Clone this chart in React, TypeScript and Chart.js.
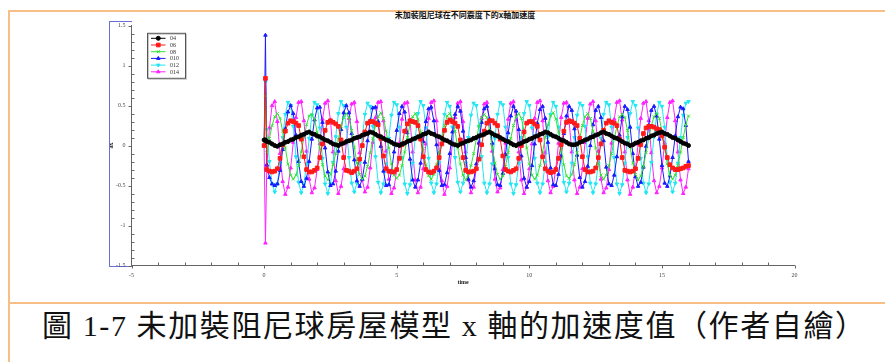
import React, { useEffect, useRef } from 'react';
import { Chart, registerables } from 'chart.js';
import { drawPoint } from 'chart.js/helpers';

Chart.register(...registerables);

// time axis (s)
const TIME = [0, 0.05,
  0.1, 0.2, 0.3, 0.4, 0.5, 0.6, 0.7, 0.8, 0.9, 1,
  1.1, 1.2, 1.3, 1.4, 1.5, 1.6, 1.7, 1.8, 1.9, 2,
  2.1, 2.2, 2.3, 2.4, 2.5, 2.6, 2.7, 2.8, 2.9, 3,
  3.1, 3.2, 3.3, 3.4, 3.5, 3.6, 3.7, 3.8, 3.9, 4,
  4.1, 4.2, 4.3, 4.4, 4.5, 4.6, 4.7, 4.8, 4.9, 5,
  5.1, 5.2, 5.3, 5.4, 5.5, 5.6, 5.7, 5.8, 5.9, 6,
  6.1, 6.2, 6.3, 6.4, 6.5, 6.6, 6.7, 6.8, 6.9, 7,
  7.1, 7.2, 7.3, 7.4, 7.5, 7.6, 7.7, 7.8, 7.9, 8,
  8.1, 8.2, 8.3, 8.4, 8.5, 8.6, 8.7, 8.8, 8.9, 9,
  9.1, 9.2, 9.3, 9.4, 9.5, 9.6, 9.7, 9.8, 9.9, 10,
  10.1, 10.2, 10.3, 10.4, 10.5, 10.6, 10.7, 10.8, 10.9, 11,
  11.1, 11.2, 11.3, 11.4, 11.5, 11.6, 11.7, 11.8, 11.9, 12,
  12.1, 12.2, 12.3, 12.4, 12.5, 12.6, 12.7, 12.8, 12.9, 13,
  13.1, 13.2, 13.3, 13.4, 13.5, 13.6, 13.7, 13.8, 13.9, 14,
  14.1, 14.2, 14.3, 14.4, 14.5, 14.6, 14.7, 14.8, 14.9, 15,
  15.1, 15.2, 15.3, 15.4, 15.5, 15.6, 15.7, 15.8, 15.9, 16];

const LABELS = ['04', '06', '08', '010', '012', '014'];

const A04 = [0.07, 0.07,
  0.05, 0.04, 0.02, 0.00, -0.01, 0.01, 0.02, 0.04, 0.05, 0.07,
  0.08, 0.10, 0.11, 0.13, 0.14, 0.16, 0.17, 0.15, 0.14, 0.12,
  0.11, 0.09, 0.07, 0.06, 0.04, 0.02, 0.01, 0.00, 0.02, 0.03,
  0.05, 0.06, 0.07, 0.09, 0.10, 0.11, 0.13, 0.14, 0.15, 0.17,
  0.16, 0.14, 0.12, 0.11, 0.09, 0.07, 0.06, 0.04, 0.02, 0.01,
  0.00, 0.02, 0.03, 0.05, 0.06, 0.08, 0.09, 0.11, 0.12, 0.14,
  0.15, 0.17, 0.15, 0.14, 0.12, 0.11, 0.09, 0.07, 0.06, 0.04,
  0.02, 0.01, 0.00, 0.02, 0.03, 0.05, 0.06, 0.07, 0.09, 0.10,
  0.12, 0.13, 0.14, 0.16, 0.17, 0.15, 0.13, 0.12, 0.10, 0.08,
  0.06, 0.05, 0.03, 0.01, 0.00, 0.02, 0.03, 0.05, 0.06, 0.08,
  0.09, 0.11, 0.12, 0.14, 0.15, 0.17, 0.16, 0.14, 0.12, 0.11,
  0.09, 0.07, 0.06, 0.04, 0.02, 0.01, 0.01, 0.02, 0.04, 0.05,
  0.07, 0.08, 0.10, 0.11, 0.13, 0.14, 0.16, 0.17, 0.15, 0.14,
  0.12, 0.10, 0.09, 0.07, 0.05, 0.03, 0.02, 0.00, 0.01, 0.03,
  0.04, 0.06, 0.07, 0.09, 0.10, 0.12, 0.13, 0.15, 0.16, 0.17,
  0.15, 0.14, 0.12, 0.10, 0.09, 0.07, 0.05, 0.03, 0.02, 0.00];

const A06 = [0, 0.84,
  -0.30, -0.32, -0.33, -0.32, -0.29, -0.16, 0.01, 0.18, 0.28, 0.31, 0.30, 0.28, 0.25, 0.08, -0.14,
  -0.30, -0.33, -0.33, -0.31, -0.28, -0.15, 0.02, 0.19, 0.29, 0.31, 0.29, 0.27, 0.24, 0.07, -0.15,
  -0.31, -0.32, -0.34, -0.32, -0.29, -0.17, 0.00, 0.17, 0.28, 0.30, 0.30, 0.28, 0.26, 0.09, -0.13,
  -0.29, -0.32, -0.33, -0.33, -0.30, -0.16, 0.01, 0.18, 0.27, 0.31, 0.30, 0.29, 0.25, 0.08, -0.14,
  -0.30, -0.33, -0.34, -0.32, -0.28, -0.15, 0.02, 0.19, 0.29, 0.32, 0.30, 0.28, 0.24, 0.07, -0.15,
  -0.31, -0.33, -0.33, -0.32, -0.29, -0.17, 0.01, 0.18, 0.28, 0.31, 0.31, 0.28, 0.25, 0.08, -0.13,
  -0.30, -0.32, -0.33, -0.31, -0.29, -0.16, 0.00, 0.17, 0.28, 0.30, 0.30, 0.27, 0.24, 0.07, -0.14,
  -0.29, -0.32, -0.34, -0.33, -0.30, -0.16, 0.01, 0.18, 0.29, 0.31, 0.30, 0.28, 0.25, 0.09, -0.14,
  -0.30, -0.33, -0.33, -0.32, -0.28, -0.15, 0.02, 0.19, 0.28, 0.31, 0.29, 0.28, 0.25, 0.08, -0.15,
  -0.31, -0.32, -0.33, -0.32, -0.29, -0.16, 0.01, 0.15, 0.22, 0.24, 0.24, 0.23, 0.21, 0.20, 0.12,
  -0.02, -0.15, -0.24, -0.28, -0.30, -0.30, -0.29, -0.28, -0.26, -0.25];

const A08 = [0, 0.62,
  -0.09, 0.09, 0.25, 0.36, 0.40, 0.34, 0.18, -0.03, -0.23, -0.37, -0.42, -0.37, -0.25,
  -0.08, 0.10, 0.26, 0.37, 0.39, 0.33, 0.17, -0.04, -0.24, -0.38, -0.43, -0.36, -0.24,
  -0.10, 0.08, 0.24, 0.35, 0.40, 0.35, 0.19, -0.02, -0.22, -0.36, -0.42, -0.38, -0.26,
  -0.09, 0.09, 0.25, 0.36, 0.41, 0.34, 0.18, -0.03, -0.23, -0.37, -0.41, -0.37, -0.25,
  -0.08, 0.10, 0.26, 0.36, 0.40, 0.33, 0.17, -0.04, -0.24, -0.38, -0.42, -0.36, -0.24,
  -0.09, 0.09, 0.25, 0.37, 0.40, 0.34, 0.18, -0.03, -0.23, -0.37, -0.43, -0.37, -0.25,
  -0.10, 0.08, 0.24, 0.35, 0.39, 0.35, 0.19, -0.02, -0.22, -0.36, -0.42, -0.38, -0.26,
  -0.09, 0.09, 0.25, 0.36, 0.40, 0.34, 0.18, -0.03, -0.23, -0.37, -0.42, -0.37, -0.25,
  -0.08, 0.10, 0.26, 0.37, 0.41, 0.33, 0.17, -0.04, -0.24, -0.38, -0.41, -0.36, -0.24,
  -0.09, 0.09, 0.25, 0.36, 0.40, 0.34, 0.18, -0.03, -0.23, -0.37, -0.42, -0.37, -0.25,
  -0.10, 0.08, 0.24, 0.36, 0.39, 0.35, 0.19, -0.02, -0.22, -0.36, -0.43, -0.38, -0.26,
  -0.09, 0.09, 0.25, 0.36, 0.40, 0.34, 0.18, -0.03, -0.23, -0.37, -0.42, -0.37, -0.25,
  -0.08, 0.10, 0.26, 0.37];

const A010 = [0, 1.38,
  -0.24, -0.40, -0.48, -0.50, -0.48, -0.31, -0.05, 0.21, 0.42, 0.50,
  0.40, 0.13, -0.20, -0.45, -0.51, -0.41, -0.20, 0.08, 0.32, 0.47,
  0.48, 0.29, -0.03, -0.33, -0.50, -0.48, -0.32, -0.07, 0.20, 0.41,
  0.50, 0.41, 0.15, -0.18, -0.44, -0.51, -0.42, -0.21, 0.06, 0.31,
  0.47, 0.48, 0.30, -0.01, -0.32, -0.50, -0.49, -0.33, -0.08, 0.19,
  0.40, 0.49, 0.42, 0.16, -0.17, -0.43, -0.52, -0.43, -0.22, 0.05,
  0.30, 0.46, 0.48, 0.31, 0.01, -0.31, -0.50, -0.49, -0.34, -0.10,
  0.17, 0.39, 0.49, 0.43, 0.18, -0.15, -0.42, -0.52, -0.44, -0.23,
  0.03, 0.29, 0.46, 0.49, 0.33, 0.03, -0.29, -0.49, -0.50, -0.35,
  -0.11, 0.16, 0.37, 0.49, 0.43, 0.20, -0.13, -0.41, -0.52, -0.45,
  -0.25, 0.02, 0.28, 0.45, 0.49, 0.34, 0.04, -0.28, -0.49, -0.50,
  -0.36, -0.13, 0.15, 0.37, 0.49, 0.44, 0.21, -0.12, -0.40, -0.52,
  -0.45, -0.26, 0.00, 0.26, 0.44, 0.49, 0.35, 0.06, -0.27, -0.48,
  -0.50, -0.37, -0.14, 0.13, 0.36, 0.49, 0.45, 0.23, -0.10, -0.39,
  -0.51, -0.46, -0.27, -0.01, 0.25, 0.44, 0.49, 0.37, 0.08, -0.25,
  -0.47, -0.51, -0.38, -0.15, 0.12, 0.36, 0.48, 0.46, 0.25, -0.20];

const A012 = [0, 0.80,
  0.20, -0.20, -0.48, -0.58, -0.48, -0.22, 0.10, 0.39, 0.54, 0.50,
  0.24, -0.14, -0.46, -0.59, -0.49, -0.23, 0.09, 0.38, 0.54, 0.51,
  0.22, -0.16, -0.48, -0.60, -0.48, -0.21, 0.11, 0.40, 0.55, 0.50,
  0.23, -0.15, -0.47, -0.58, -0.47, -0.22, 0.10, 0.39, 0.53, 0.49,
  0.24, -0.14, -0.46, -0.59, -0.48, -0.23, 0.09, 0.38, 0.54, 0.51,
  0.23, -0.15, -0.48, -0.60, -0.49, -0.22, 0.10, 0.40, 0.55, 0.50,
  0.22, -0.16, -0.47, -0.59, -0.48, -0.21, 0.11, 0.39, 0.54, 0.49,
  0.23, -0.15, -0.46, -0.58, -0.47, -0.22, 0.10, 0.38, 0.53, 0.50,
  0.24, -0.14, -0.47, -0.59, -0.48, -0.23, 0.09, 0.39, 0.54, 0.51,
  0.23, -0.15, -0.48, -0.60, -0.49, -0.22, 0.10, 0.40, 0.55, 0.50,
  0.22, -0.16, -0.47, -0.59, -0.48, -0.21, 0.11, 0.39, 0.54, 0.49,
  0.23, -0.15, -0.46, -0.58, -0.47, -0.22, 0.10, 0.38, 0.53, 0.50,
  0.24, -0.14, -0.47, -0.59, -0.48, -0.23, 0.09, 0.39, 0.54, 0.51,
  0.23, -0.15, -0.48, -0.60, -0.49, -0.22, 0.10, 0.40, 0.55, 0.50,
  0.22, -0.16, -0.47, -0.59, -0.48, -0.21, 0.11, 0.39, 0.54, 0.49,
  0.23, -0.15, -0.46, -0.58, -0.47, -0.22, 0.10, 0.38, 0.53, 0.55];

const A014 = [0, -1.22,
  -0.25, 0.22, 0.50, 0.55, 0.30, -0.10, -0.45, -0.61, -0.52, -0.28,
  0.04, 0.35, 0.54, 0.55, 0.31, -0.07, -0.42, -0.59, -0.53, -0.30,
  0.02, 0.33, 0.53, 0.56, 0.32, -0.08, -0.44, -0.60, -0.51, -0.29,
  0.03, 0.34, 0.52, 0.54, 0.30, -0.09, -0.43, -0.58, -0.52, -0.28,
  0.04, 0.35, 0.54, 0.55, 0.31, -0.07, -0.42, -0.60, -0.53, -0.30,
  0.03, 0.33, 0.53, 0.54, 0.32, -0.08, -0.43, -0.59, -0.52, -0.29,
  0.02, 0.34, 0.54, 0.56, 0.31, -0.09, -0.44, -0.61, -0.51, -0.28,
  0.03, 0.35, 0.53, 0.55, 0.30, -0.08, -0.43, -0.59, -0.52, -0.29,
  0.04, 0.34, 0.52, 0.54, 0.31, -0.07, -0.42, -0.58, -0.53, -0.30,
  0.03, 0.33, 0.53, 0.55, 0.32, -0.08, -0.43, -0.60, -0.52, -0.29,
  0.02, 0.34, 0.54, 0.56, 0.31, -0.09, -0.44, -0.59, -0.51, -0.28,
  0.03, 0.35, 0.53, 0.54, 0.30, -0.08, -0.43, -0.60, -0.52, -0.29,
  0.04, 0.34, 0.52, 0.55, 0.31, -0.07, -0.42, -0.59, -0.53, -0.30,
  0.03, 0.33, 0.54, 0.56, 0.32, -0.08, -0.43, -0.61, -0.52, -0.29,
  0.02, 0.34, 0.53, 0.55, 0.31, -0.09, -0.44, -0.59, -0.51, -0.28,
  0.03, 0.35, 0.54, 0.56, 0.31, -0.08, -0.43, -0.60, -0.52, -0.29];

const X_TICKS_MAJOR = 5;
const SERIES = [A04, A06, A08, A010, A012, A014];
const COLORS = ['#000000', '#ff1a1a', '#33e033', '#1a1aff', '#22e6f2', '#ff22ff'];
const STYLES = [
  { pointStyle: 'circle', radius: 2, rotation: 0 },
  { pointStyle: 'rect', radius: 2.6, rotation: 0 },
  { pointStyle: 'crossRot', radius: 2, rotation: 0 },
  { pointStyle: 'triangle', radius: 2, rotation: 0 },
  { pointStyle: 'triangle', radius: 2, rotation: 180 },
  { pointStyle: 'triangle', radius: 2, rotation: 0 },
];

const SERIF = '"Liberation Serif", "DejaVu Serif", serif';

const legendBoxPlugin = {
  id: 'legendBox',
  afterDatasetsDraw(chart: any) {
    const { ctx, chartArea } = chart;
    const x0 = chartArea.left + 15.5;
    const y0 = chartArea.top + 7.2;
    const w = 38;
    const h = 45;
    ctx.save();
    ctx.fillStyle = '#ffffff';
    ctx.fillRect(x0, y0, w, h);
    ctx.lineWidth = 1;
    ctx.strokeStyle = '#c8c8c8';
    ctx.strokeRect(x0 + 1.5, y0 + 1.5, w, h);
    ctx.strokeStyle = '#555555';
    ctx.strokeRect(x0 + 0.5, y0 + 0.5, w, h);
    chart.data.datasets.forEach((ds: any, i: number) => {
      const y = y0 + 5.5 + i * 6.7;
      ctx.strokeStyle = ds.borderColor;
      ctx.fillStyle = ds.backgroundColor;
      ctx.lineWidth = 1;
      ctx.beginPath();
      ctx.moveTo(x0 + 4, y);
      ctx.lineTo(x0 + 18.5, y);
      ctx.stroke();
      drawPoint(ctx, {
        pointStyle: ds.pointStyle,
        radius: ds.pointRadius,
        rotation: ds.pointRotation || 0,
        borderWidth: 1,
      }, x0 + 11.3, y);
      ctx.fillStyle = '#333333';
      ctx.font = '6px ' + SERIF;
      ctx.textBaseline = 'middle';
      ctx.textAlign = 'left';
      ctx.fillText(ds.label, x0 + 23, y + 0.5);
    });
    ctx.restore();
  },
};

const axisTicksPlugin = {
  id: 'axisTicks',
  afterDraw(chart: any) {
    const { ctx } = chart;
    const xs = chart.scales.x;
    const ys = chart.scales.y;
    ctx.save();
    ctx.strokeStyle = '#666666';
    ctx.lineWidth = 1;
    ctx.beginPath();
    xs.ticks.forEach((t: any) => {
      const px = Math.round(xs.getPixelForValue(t.value)) + 0.5;
      const major = Math.round(t.value) % X_TICKS_MAJOR === 0;
      ctx.moveTo(px, xs.top);
      ctx.lineTo(px, major ? xs.top + 3 : xs.top - 3);
    });
    ys.ticks.forEach((t: any) => {
      const py = Math.round(ys.getPixelForValue(t.value)) + 0.5;
      const major = Math.abs(Math.round(t.value * 10)) % 5 === 0;
      ctx.moveTo(ys.right, py);
      ctx.lineTo(major ? ys.right - 3 : ys.right + 3, py);
    });
    ctx.stroke();
    ctx.restore();
  },
};

function AccelChart() {
  const ref = useRef<HTMLCanvasElement | null>(null);
  useEffect(() => {
    if (!ref.current) return;
    const datasets = SERIES.map((arr, k) => ({
      label: LABELS[k],
      data: TIME.map((t, i) => ({ x: t, y: arr[i] })),
      borderColor: COLORS[k],
      backgroundColor: COLORS[k],
      borderWidth: 1,
      pointStyle: STYLES[k].pointStyle,
      pointRadius: STYLES[k].radius,
      pointRotation: STYLES[k].rotation,
      pointBorderWidth: 1,
      tension: 0,
    }));
    const chart = new Chart(ref.current, {
      type: 'line',
      data: { datasets },
      options: {
        animation: false,
        responsive: false,
        devicePixelRatio: 1,
        layout: { padding: { top: 7.5, right: 25.4, bottom: 0, left: 0 } },
        plugins: { legend: { display: false }, title: { display: false }, tooltip: { enabled: false } },
        scales: {
          x: {
            type: 'linear',
            min: -5,
            max: 20,
            afterFit: (s: any) => { s.height = 26.5; },
            grid: { display: false, drawTicks: false },
            border: { display: true, color: '#666666', width: 1 },
            ticks: {
              stepSize: 1,
              autoSkip: false,
              maxRotation: 0,
              padding: 6,
              color: '#444444',
              font: { family: SERIF, size: 6 },
              callback: (v: any) => (Math.round(v) % X_TICKS_MAJOR === 0 ? String(v) : ''),
            },
            title: {
              display: true,
              text: 'time',
              color: '#222222',
              font: { family: SERIF, size: 6, weight: 'bold' },
              padding: { top: 0, bottom: 6 },
            },
          },
          y: {
            type: 'linear',
            min: -1.5,
            max: 1.5,
            afterFit: (s: any) => { s.width = 31.5; },
            grid: { display: false, drawTicks: false },
            border: { display: true, color: '#666666', width: 1 },
            ticks: {
              stepSize: 0.1,
              autoSkip: false,
              padding: 6,
              color: '#444444',
              font: { family: SERIF, size: 6 },
              callback: (v: any) => {
                const r = Math.round(v * 10);
                return Math.abs(r) % 5 === 0 ? String(r / 10) : '';
              },
            },
            title: {
              display: true,
              text: 'ax',
              color: '#222222',
              font: { family: SERIF, size: 6, weight: 'bold' },
              padding: { top: 8, bottom: 0 },
            },
          },
        },
      },
      plugins: [legendBoxPlugin, axisTicksPlugin],
    } as any);
    return () => chart.destroy();
  }, []);
  return (
    <canvas
      ref={ref}
      width={720}
      height={276}
      style={{ position: 'absolute', left: 100, top: 16, width: 720, height: 276 }}
    />
  );
}

export default function App() {
  const ORANGE = '#F8BE88';
  const BLUE = '#6d6dd8';
  return (
    <div style={{ position: 'absolute', left: 0, top: 0, width: 885, height: 362, background: '#ffffff', overflow: 'hidden' }}>
      <div style={{ position: 'absolute', left: 8, top: 10, width: 877, height: 1.5, background: ORANGE }} />
      <div style={{ position: 'absolute', left: 8, top: 10, width: 1.5, height: 352, background: ORANGE }} />
      <div style={{ position: 'absolute', left: 8, top: 302, width: 877, height: 2, background: ORANGE }} />
      <div style={{ position: 'absolute', left: 109, top: 21, width: 22, height: 244, borderLeft: `1px solid ${BLUE}`, borderTop: `1px solid ${BLUE}`, borderBottom: `1px solid ${BLUE}` }} />
      <div style={{ position: 'absolute', left: 365, top: 10, width: 200, textAlign: 'center', fontFamily: '"Noto Sans CJK TC", sans-serif', fontWeight: 'bold', fontSize: 8, lineHeight: '9px', color: '#111', whiteSpace: 'nowrap' }}>
        未加裝阻尼球在不同震度下的x軸加速度
      </div>
      <AccelChart />
      <div style={{ position: 'absolute', left: 42, top: 306, fontFamily: '"Liberation Serif", "Noto Sans CJK TC", serif', fontSize: 30, lineHeight: '40px', letterSpacing: '1.6px', color: '#111', whiteSpace: 'nowrap' }}>
        圖 1-7 未加裝阻尼球房屋模型 x 軸的加速度值（作者自繪）
      </div>
    </div>
  );
}
